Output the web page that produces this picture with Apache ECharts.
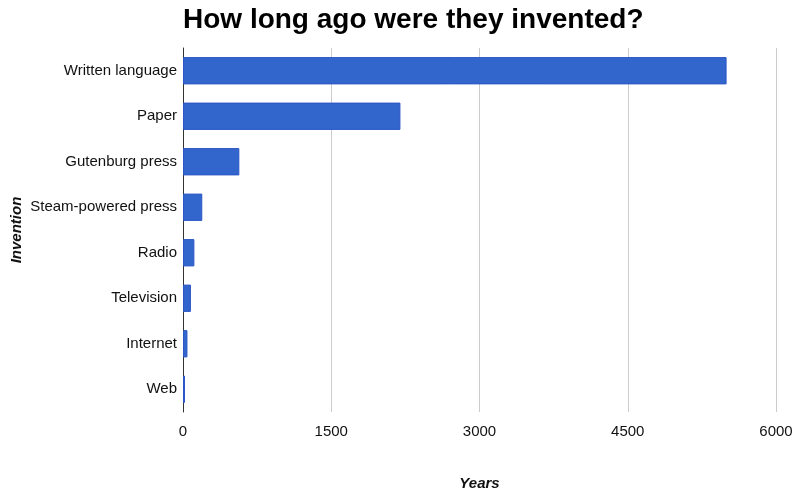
<!DOCTYPE html>
<html><head><meta charset="utf-8">
<script src="https://cdn.jsdelivr.net/npm/echarts@6/dist/echarts.min.js"></script>
<style>html,body{margin:0;padding:0;background:#fff}#c{width:800px;height:493px}</style>
</head><body><div id="c"></div>
<script>
const categories = ["Written language","Paper","Gutenburg press","Steam-powered press","Radio","Television","Internet","Web"];
const years = [5500, 2200, 570, 195, 115, 80, 45, 20];
const xTicks = [0, 1500, 3000, 4500, 6000];

const chart = echarts.init(document.getElementById('c'), null, {renderer:'canvas'});
const font = "'Liberation Sans', Arial, sans-serif";
chart.setOption({
  animation:false,
  title:{text:"How long ago were they invented?", left:178, top:1,
    textStyle:{fontFamily:font, fontSize:28, fontWeight:'bold', color:'#000'}},
  grid:{left:183, right:24, top:48, bottom:81, containLabel:false, outerBoundsMode:'none'},
  xAxis:{type:'value', min:xTicks[0], max:xTicks[xTicks.length-1], interval:1500,
    name:"Years", nameLocation:'middle', nameGap:64, nameMoveOverlap:false,
    nameTextStyle:{fontFamily:font, fontSize:15, fontWeight:'bold', fontStyle:'italic', color:'#111'},
    axisLine:{show:false}, axisTick:{show:false},
    axisLabel:{fontFamily:font, fontSize:15, color:'#111', margin:12, formatter:v=>String(v)},
    splitLine:{lineStyle:{color:'#ccc', width:1}}},
  yAxis:{type:'category', data:categories, inverse:true,
    name:"Invention", nameLocation:'middle', nameGap:159, nameRotate:90, nameMoveOverlap:false,
    nameTextStyle:{fontFamily:font, fontSize:15, fontWeight:'bold', fontStyle:'italic', color:'#111'},
    axisLine:{show:true, lineStyle:{color:'#333', width:1}}, axisTick:{show:false},
    axisLabel:{fontFamily:font, fontSize:15, color:'#111', margin:6}},
  series:[{type:'bar', data:years, barWidth:'60%',
    itemStyle:{color:'#3366cc', borderColor:'#2a56c6', borderWidth:1}}]
});
</script></body></html>
